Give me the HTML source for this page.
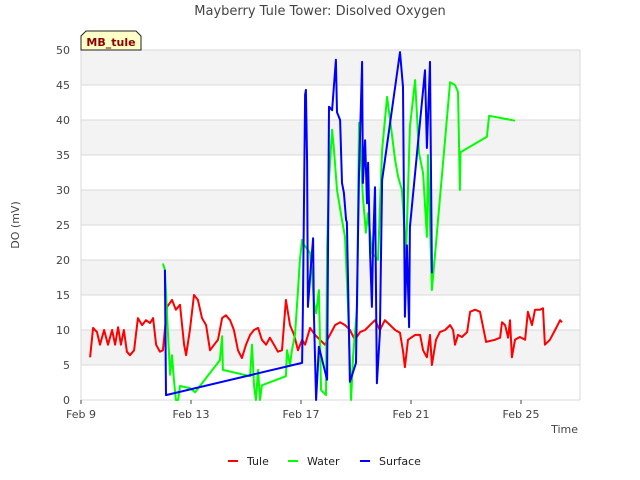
<!DOCTYPE html>
<html><head><meta charset="utf-8">
<style>
body{margin:0;background:#fff;font-family:"Liberation Sans",sans-serif;}
svg{display:block}
text{font-family:"DejaVu Sans","Liberation Sans",sans-serif;}
</style></head>
<body>
<svg id="chart" width="640" height="480" xmlns="http://www.w3.org/2000/svg">
<rect x="0" y="0" width="640" height="480" fill="#fff"/>
<g id="bands"></g>
<g id="grid"></g>
<g id="series"></g>
<g id="axes"></g>
<text x="320" y="15" text-anchor="middle" font-size="13" fill="#444">Mayberry Tule Tower: Disolved Oxygen</text>
<text x="19" y="225" text-anchor="middle" font-size="11" fill="#444" transform="rotate(-90 19 225)">DO (mV)</text>
<text x="578" y="433" text-anchor="end" font-size="11" fill="#444">Time</text>
<g>
<path d="M81,50 L81,36 L86,31 L136,31 L141,36 L141,50 Z" fill="#ffffc8" stroke="#222" stroke-width="1"/>
<text x="111" y="46" text-anchor="middle" font-size="11" font-weight="bold" fill="#8b0000">MB_tule</text>
</g>
<g id="legend"></g>
</svg>
<script>
const yTicks=[0,5,10,15,20,25,30,35,40,45,50];
const xTickDays=[0,4,8,12,16];
const xTickLabels=["Feb 9","Feb 13","Feb 17","Feb 21","Feb 25"];
const tuleDays=[0.33,0.44,0.58,0.69,0.84,0.98,1.13,1.24,1.35,1.45,1.56,1.67,1.78,1.93,2.07,2.22,2.36,2.51,2.62,2.73,2.87,2.98,3.13,3.31,3.45,3.6,3.75,3.82,3.96,4.11,4.25,4.4,4.55,4.69,4.84,4.98,5.13,5.27,5.42,5.56,5.71,5.85,6,6.15,6.29,6.44,6.58,6.73,6.87,7.02,7.16,7.31,7.45,7.6,7.75,7.89,8.04,8.15,8.33,8.51,8.69,8.87,9.05,9.24,9.42,9.6,9.78,9.96,10.15,10.33,10.51,10.69,10.87,11.05,11.24,11.42,11.6,11.71,11.78,11.89,12.15,12.33,12.44,12.58,12.69,12.76,12.91,13.05,13.24,13.42,13.53,13.6,13.71,13.85,14.04,14.15,14.33,14.51,14.73,15.05,15.24,15.31,15.42,15.53,15.6,15.67,15.78,15.96,16.15,16.25,16.4,16.51,16.69,16.8,16.87,17.05,17.24,17.42,17.49];
const tuleVals=[6.1,10.3,9.7,7.9,10,7.9,10,7.9,10.4,7.9,10,6.9,6.4,7.1,11.7,10.7,11.4,11,11.7,7.9,6.9,7.1,13.3,14.3,12.9,13.6,7.9,6.4,10,15,14.3,11.7,10.7,7.1,7.9,8.6,11.7,12.1,11.4,10,7.1,6,7.9,9.3,10,10.3,8.6,7.9,8.9,7.9,6.9,7.1,14.3,10.7,9.3,7.1,8.6,7.9,10.3,9.3,8.6,7.9,9.3,10.7,11.1,10.7,10,8.6,9.7,10,10.7,11.4,10,11.4,10.7,10,9.6,7,4.7,8.6,9.3,9.3,7.1,6.1,9.3,5,8.6,9.7,10,10.7,10,7.9,9.3,9,9.7,12.6,12.9,12.6,8.3,8.6,8.9,11.1,10.7,8.9,11.4,6.1,8.6,9,8.6,12.6,10.7,12.9,12.9,13.1,7.9,8.6,10,11.4,11.1];
const waterDays=[2.98,3.05,3.16,3.24,3.31,3.38,3.45,3.53,3.6,3.96,4.15,5.05,5.13,5.16,6.15,6.22,6.29,6.36,6.44,6.51,6.58,7.45,7.49,7.6,7.67,7.78,7.89,7.96,8.04,8.07,8.33,8.4,8.47,8.55,8.65,8.73,8.91,8.95,9.02,9.13,9.2,9.31,9.49,9.6,9.71,9.82,9.89,10.04,10.11,10.25,10.36,10.44,10.58,10.8,10.95,11.13,11.24,11.42,11.53,11.67,11.82,11.96,12.15,12.29,12.44,12.58,12.62,12.76,13.42,13.6,13.71,13.78,13.8,14.76,14.84,15.78];
const waterVals=[19.5,18.6,9.7,3.6,6.4,2.9,0,0,2,1.7,1.1,5.7,9.1,4.3,3.4,7.9,2.1,0,4.3,0,2.1,3.4,7.1,5,7.1,9.3,15.7,20,22.9,22.4,21,18,14,12.4,15.7,1.4,0.7,21.9,31.4,38.6,35.7,30,25.7,23.3,13.3,0,6.1,13.3,39.6,29,23.9,26.7,21,20,35.7,43.3,40,34.3,31.9,30,21,39,45.7,35.3,32.4,23.3,35,15.7,45.4,45,44,30,35.4,37.6,40.6,39.9];
const surfDays=[3.05,3.09,8.04,8.07,8.15,8.18,8.22,8.25,8.33,8.44,8.47,8.55,8.65,8.95,9.02,9.13,9.27,9.31,9.42,9.49,9.56,9.64,9.67,9.78,10,10.11,10.22,10.25,10.33,10.4,10.44,10.51,10.58,10.62,10.69,10.76,10.87,10.95,11.6,11.71,11.78,11.85,11.93,11.96,12.51,12.58,12.69,12.76];
const surfVals=[18.6,0.7,5.3,13,43.6,44.3,34,13.3,17.6,23.1,12.4,0,7.6,2.9,41.9,41.4,48.6,41.1,40,31,29.6,25.7,25.4,2.6,5.3,32.4,48.3,31,37.1,28.1,33.9,21.4,13.3,21.9,30.4,2.4,9.6,31.4,49.7,44.7,11.9,22.1,10.4,24.7,47.1,36,48.3,18.1];
const seriesNames=["Tule","Water","Surface"];
const seriesColors=["#ff0000","#00ff00","#0000ff"];

const NS="http://www.w3.org/2000/svg";
const X0=81,X1=580,Y0=400,Y1=50;
function xs(d){return X0+27.5*d;}
function ys(v){return Y0-(Y0-Y1)*v/50;}
function mk(tag,attrs,parent){const e=document.createElementNS(NS,tag);for(const k in attrs)e.setAttribute(k,attrs[k]);parent.appendChild(e);return e;}
const bands=document.getElementById('bands'),grid=document.getElementById('grid'),axes=document.getElementById('axes'),series=document.getElementById('series'),legend=document.getElementById('legend');
mk('rect',{x:X0,y:Y1,width:X1-X0,height:Y0-Y1,fill:'#fff'},bands);
for(let i=0;i<yTicks.length-1;i++){
  if(i%2===1){const r=mk('rect',{x:X0,y:ys(yTicks[i+1]),width:X1-X0,height:ys(yTicks[i])-ys(yTicks[i+1]),fill:'#f3f3f3'},bands);
  
  }
}
yTicks.forEach(t=>{
  const l=mk('line',{x1:X0,x2:X1,y1:ys(t),y2:ys(t),stroke:'#d8d8d8','stroke-width':1},grid);
  
  
  const tx=mk('text',{x:X0-11,y:ys(t)+4,'text-anchor':'end','font-size':11,fill:'#444'},axes);
  tx.textContent=t;
  
  
});
mk('line',{x1:X0,x2:X0,y1:Y1,y2:Y0,stroke:'#d8d8d8'},grid);
mk('line',{x1:X1,x2:X1,y1:Y1,y2:Y0,stroke:'#d8d8d8'},grid);
xTickDays.forEach((d,i)=>{
  mk('line',{x1:xs(d),x2:xs(d),y1:Y0,y2:Y0+4,stroke:'#444'},axes);
  const tx=mk('text',{x:xs(d),y:Y0+18,'text-anchor':'middle','font-size':11,fill:'#444'},axes);
  tx.textContent=xTickLabels[i];
  
  
});
function drawLine(days,vals,color,name){
  const pts=days.map((d,i)=>xs(d).toFixed(1)+','+ys(vals[i]).toFixed(1)).join(' ');
  const p=mk('polyline',{points:pts,fill:'none',stroke:color,'stroke-width':2,'stroke-linejoin':'round'},series);
  
  
}
drawLine(tuleDays,tuleVals,seriesColors[0],'tule-line');
drawLine(waterDays,waterVals,seriesColors[1],'water-line');
drawLine(surfDays,surfVals,seriesColors[2],'surface-line');
const lx=[228,288,360];
seriesNames.forEach((n,i)=>{
  const g=mk('g',{},legend);
  
  
  mk('line',{x1:lx[i],x2:lx[i]+10,y1:461,y2:461,stroke:seriesColors[i],'stroke-width':2},g);
  const t=mk('text',{x:lx[i]+19,y:465,'font-size':11,fill:'#222'},g);
  t.textContent=n;
});
</script>
</body></html>
